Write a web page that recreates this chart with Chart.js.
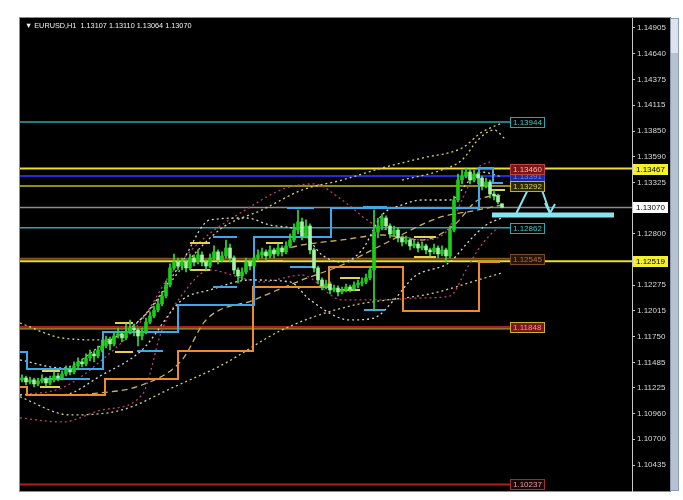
<!DOCTYPE html>
<html><head><meta charset="utf-8">
<script src="https://cdn.jsdelivr.net/npm/chart.js@4.4.0/dist/chart.umd.min.js"></script>
<style>html,body{margin:0;padding:0;background:#fff;overflow:hidden}canvas{display:block}</style>
</head><body>
<canvas id="c" width="683" height="500"></canvas>
<script>
const headerText = '\u25BC EURUSD,H1  1.13107 1.13110 1.13064 1.13070';
const axisTicks = [1.14905,1.14640,1.14375,1.14115,1.13850,1.13590,1.13325,1.12800,1.12275,1.12015,1.11750,1.11485,1.11225,1.10960,1.10700,1.10435];

const opens = [
1.11306,1.11326,1.11285,1.11306,1.11265,1.11295,1.11316,1.11275,1.11306,1.11346,
1.11326,1.11367,1.11408,1.11387,1.11449,1.11490,1.11470,1.11531,1.11572,1.11551,
1.11612,1.11653,1.11715,1.11674,1.11755,1.11776,1.11735,1.11796,1.11837,1.11817,
1.11755,1.11796,1.11898,1.11960,1.12020,1.12083,1.12164,1.12277,1.12451,1.12512,
1.12471,1.12512,1.12451,1.12553,1.12512,1.12584,1.12512,1.12471,1.12553,1.12615,
1.12533,1.12574,1.12655,1.12553,1.12430,1.12369,1.12410,1.12512,1.12471,1.12553,
1.12584,1.12615,1.12574,1.12635,1.12594,1.12655,1.12615,1.12676,1.12737,1.12839,
1.12922,1.12778,1.12880,1.12635,1.12451,1.12328,1.12267,1.12287,1.12226,1.12246,
1.12205,1.12226,1.12256,1.12236,1.12277,1.12297,1.12308,1.12349,1.12430,1.12819,
1.12880,1.12962,1.12880,1.12798,1.12839,1.12758,1.12717,1.12737,1.12676,1.12696,
1.12655,1.12676,1.12635,1.12615,1.12655,1.12594,1.12635,1.12574,1.12839,1.13146,
1.13350,1.13391,1.13432,1.13350,1.13412,1.13371,1.13289,1.13330,1.13207,1.13187,1.13107];
const highs = [
1.11357,1.11346,1.11336,1.11326,1.11326,1.11357,1.11336,1.11346,1.11387,1.11377,
1.11398,1.11449,1.11439,1.11490,1.11531,1.11520,1.11572,1.11612,1.11602,1.11653,
1.11715,1.11755,1.11745,1.11796,1.11837,1.11806,1.11878,1.11919,1.11878,1.11837,
1.11837,1.11939,1.12001,1.12062,1.12124,1.12205,1.12318,1.12492,1.12594,1.12553,
1.12553,1.12533,1.12594,1.12584,1.12635,1.12615,1.12533,1.12594,1.12676,1.12635,
1.12615,1.12737,1.12696,1.12574,1.12451,1.12451,1.12553,1.12533,1.12594,1.12635,
1.12655,1.12635,1.12676,1.12655,1.12696,1.12676,1.12717,1.12798,1.12901,1.13044,
1.12962,1.12942,1.12901,1.12655,1.12471,1.12349,1.12328,1.12308,1.12277,1.12267,
1.12256,1.12287,1.12277,1.12308,1.12328,1.12349,1.12389,1.12471,1.13044,1.12962,
1.13003,1.12983,1.12901,1.12880,1.12860,1.12778,1.12778,1.12758,1.12737,1.12717,
1.12717,1.12696,1.12655,1.12696,1.12676,1.12676,1.12655,1.12880,1.13187,1.13412,
1.13453,1.13473,1.13463,1.13453,1.13432,1.13391,1.13371,1.13350,1.13248,1.13207,1.13110];
const lows = [
1.11285,1.11255,1.11265,1.11234,1.11244,1.11275,1.11244,1.11255,1.11285,1.11295,
1.11306,1.11346,1.11357,1.11367,1.11418,1.11439,1.11449,1.11500,1.11490,1.11531,
1.11592,1.11633,1.11612,1.11653,1.11735,1.11694,1.11715,1.11776,1.11755,1.11653,
1.11715,1.11776,1.11878,1.11939,1.12001,1.12062,1.12144,1.12256,1.12430,1.12430,
1.12430,1.12410,1.12430,1.12471,1.12492,1.12471,1.12430,1.12451,1.12533,1.12492,
1.12512,1.12553,1.12512,1.12389,1.12297,1.12328,1.12389,1.12430,1.12451,1.12533,
1.12553,1.12533,1.12553,1.12553,1.12574,1.12574,1.12594,1.12655,1.12717,1.12798,
1.12737,1.12758,1.12594,1.12410,1.12287,1.12226,1.12236,1.12185,1.12205,1.12164,
1.12185,1.12205,1.12205,1.12215,1.12246,1.12267,1.12287,1.12328,1.12020,1.12758,
1.12839,1.12839,1.12758,1.12778,1.12717,1.12676,1.12696,1.12635,1.12655,1.12615,
1.12635,1.12594,1.12574,1.12594,1.12553,1.12574,1.12512,1.12553,1.12819,1.13126,
1.13310,1.13371,1.13310,1.13330,1.13310,1.13248,1.13269,1.13167,1.13146,1.13105,1.13064];
const closes = [
1.11326,1.11285,1.11306,1.11265,1.11295,1.11316,1.11275,1.11306,1.11346,1.11326,
1.11367,1.11408,1.11387,1.11449,1.11490,1.11470,1.11531,1.11572,1.11551,1.11612,
1.11653,1.11715,1.11674,1.11755,1.11776,1.11735,1.11796,1.11837,1.11817,1.11755,
1.11796,1.11898,1.11960,1.12020,1.12083,1.12164,1.12277,1.12451,1.12512,1.12471,
1.12512,1.12451,1.12553,1.12512,1.12584,1.12512,1.12471,1.12553,1.12615,1.12533,
1.12574,1.12655,1.12553,1.12430,1.12369,1.12410,1.12512,1.12471,1.12553,1.12584,
1.12615,1.12574,1.12635,1.12594,1.12655,1.12615,1.12676,1.12737,1.12839,1.12922,
1.12778,1.12880,1.12635,1.12451,1.12328,1.12267,1.12287,1.12226,1.12246,1.12205,
1.12226,1.12256,1.12236,1.12277,1.12297,1.12308,1.12349,1.12430,1.12819,1.12880,
1.12962,1.12880,1.12798,1.12839,1.12758,1.12717,1.12737,1.12676,1.12696,1.12655,
1.12676,1.12635,1.12615,1.12655,1.12594,1.12635,1.12574,1.12839,1.13146,1.13350,
1.13391,1.13432,1.13350,1.13412,1.13371,1.13289,1.13330,1.13207,1.13187,1.13126,1.13070];

// step indicator lines [bar index, price]
const blueStep = [[-0.5,1.11592],[1.25,1.11418],[20.25,1.11796],[39,1.12072],[58,1.12768],[77.25,1.13064],[114.25,1.13473],[117.75,1.13320],[120.25,1.13320]];
const orangeStep = [[-0.5,1.11234],[1.25,1.11152],[20.75,1.11316],[39,1.11602],[57.75,1.12256],[76.75,1.12461],[95.25,1.12011],[114.25,1.12512],[119.5,1.12512]];

// band curves [bar index, price]
const yellowOuterUpper = [[-0.5,1.11888],[10,1.11735],[20,1.11715],[30,1.11939],[40,1.12451],[50,1.12860],[60,1.13044],[70,1.13248],[80,1.13350],[90,1.13473],[100,1.13575],[110,1.13678],[115,1.13841],[120,1.13933]];
const yellowInnerUpper = [[95,1.13350],[105,1.13453],[110,1.13555],[114,1.13760],[118,1.13862],[121,1.13760]];
const whiteUpper = [[-0.5,1.11510],[10,1.11428],[20,1.11664],[30,1.11939],[40,1.12512],[47,1.12942],[56,1.12962],[62,1.12890],[70,1.12819],[75,1.12584],[80,1.12512],[85,1.12635],[90,1.12993],[95,1.13095],[100,1.13146],[107,1.13146],[112,1.13350],[115,1.13432],[120,1.13381]];
const whiteLower = [[-0.5,1.11152],[10,1.11152],[20,1.11357],[30,1.11612],[40,1.12124],[47,1.12226],[57,1.12328],[67,1.12308],[72,1.12124],[82,1.11919],[88,1.11939],[93,1.12124],[98,1.12359],[107,1.12512],[112,1.12737],[116,1.12890],[120,1.12962]];
const pinkUpper = [[-0.5,1.11152],[10,1.11224],[20,1.11510],[30,1.11919],[37,1.12379],[45,1.12737],[55,1.13023],[66,1.13269],[73,1.13310],[80,1.13146],[87,1.12921],[93,1.12809],[100,1.12737],[106,1.12819],[110,1.13146],[114,1.13473],[117,1.13535]];
const pinkLower = [[-0.5,1.10917],[10,1.10876],[20,1.10999],[30,1.11152],[35,1.11817],[40,1.12175],[47,1.12430],[55,1.12349],[60,1.12308],[70,1.12379],[80,1.12124],[90,1.12124],[100,1.12144],[107,1.12164],[111,1.12430],[114,1.12635],[117,1.12788],[120,1.12890]];
const yellowOuterLower = [[-0.5,1.11132],[12,1.10948],[25,1.10999],[38,1.11234],[50,1.11459],[65,1.11817],[81,1.12052],[103,1.12195],[114,1.12328],[120,1.12400]];
const tanMaSlow = [[15,1.11152],[30,1.11254],[40,1.11510],[46,1.11919],[58,1.12124],[70,1.12328],[80,1.12481],[90,1.12686],[104,1.12962],[114,1.13044],[120,1.13095]];
const tanMaFast = [[60,1.12584],[70,1.12686],[80,1.12737],[90,1.12788],[100,1.12737],[108,1.12890],[114,1.13146],[120,1.13197]];

// short level marks [from, to, price]
const yellowMarks = [[5,9.5,1.11398],[4.5,9.5,1.11234],[23.25,27.75,1.11888],[23.25,27.75,1.11592],[42,47,1.12706],[42,47,1.12430],[61,65.25,1.12706],[61.25,65.25,1.12522],[79.5,84.5,1.12349],[79.5,84.5,1.12226],[98,103.5,1.12768],[98,103.5,1.12563],[117,120.75,1.13248]];
const blueMarks = [[5.25,17,1.11316],[28.75,35.25,1.11602],[47.75,53.75,1.12256],[47.75,53.75,1.12768],[66.25,73,1.13064],[67,73,1.12461],[85.25,91.25,1.13074],[85.5,90.75,1.12020]];

// horizontal levels
const fullLevels = [1.13467, 1.13070, 1.12519];
const shortLevels = [1.13944, 1.13391, 1.13289, 1.12862, 1.12545, 1.11848, 1.11827, 1.10237];
const levelEnd = 122;
const chartLabels = [1.13944, 1.13391, 1.13460, 1.13292, 1.12862, 1.12545, 1.11848, 1.10237];

// hand-drawn cyan objects [bar index, price]
const cyanBar = [[117.5,1.12993],[148,1.12993]];
const cyanArrow = [[123.5,1.13003],[128.5,1.13422],[132,1.13013]];
const cyanHead = [[130.75,1.13115],[132,1.13013],[133.25,1.13105]];

const pts = a => a.map(p => ({x: p[0], y: p[1]}));
const marks = a => a.flatMap(m => [{x: m[0], y: m[2]}, {x: m[1], y: m[2]}, {x: m[1], y: null}]);
const idx = closes.map((_, i) => i);

function line(data, color, width, extra) {
  return Object.assign({type: 'line', data, borderColor: color, borderWidth: width, pointRadius: 0, fill: false, spanGaps: false}, extra || {});
}
const dotted = (arr, color) => line(pts(arr), color, 1.3, {borderDash: [2, 3], cubicInterpolationMode: 'monotone', order: 8});

const levelStyles = {
  1.13467: ['#e8e030', 2], 1.13070: ['#8c8c8c', 1.5], 1.12519: ['#e8e030', 2],
  1.13944: ['#2aa6b0', 1.5], 1.13391: ['#2a2ad0', 2], 1.13289: ['#c8b828', 1.5],
  1.12862: ['#2aa6b0', 1.5], 1.12545: ['#8a5020', 2], 1.11848: ['#b02020', 2], 1.11827: ['#b0a030', 1.2], 1.10237: ['#b02020', 2]
};

const datasets = [];
fullLevels.forEach(v => datasets.push(line([{x:-0.5,y:v},{x:152.5,y:v}], levelStyles[v][0], levelStyles[v][1], {order: 10})));
shortLevels.forEach(v => datasets.push(line([{x:-0.5,y:v},{x:levelEnd,y:v}], levelStyles[v][0], levelStyles[v][1], {order: 10})));
datasets.push(dotted(yellowOuterUpper, '#d8cf7a'));
datasets.push(dotted(yellowInnerUpper, '#d8cf7a'));
datasets.push(dotted(yellowOuterLower, '#d8cf7a'));
datasets.push(dotted(whiteUpper, '#d8d8d8'));
datasets.push(dotted(whiteLower, '#d8d8d8'));
datasets.push(dotted(pinkUpper, '#b8407c'));
datasets.push(dotted(pinkLower, '#b8407c'));
datasets.push(line(pts(tanMaSlow), '#c8b060', 1.3, {borderDash: [6, 4], cubicInterpolationMode: 'monotone', order: 8}));
datasets.push(line(pts(tanMaFast), '#c8b060', 1.3, {borderDash: [6, 4], cubicInterpolationMode: 'monotone', order: 8}));
datasets.push(line(pts(blueStep), '#40a8e8', 2, {stepped: true, order: 6}));
datasets.push(line(pts(orangeStep), '#f08a30', 2, {stepped: true, order: 6}));
datasets.push(line(marks(yellowMarks), '#e8d050', 2, {order: 7}));
datasets.push(line(marks(blueMarks), '#40a8e8', 2, {order: 7}));
const up = idx.map(i => closes[i] >= opens[i]);
datasets.push({type: 'bar', data: idx.map(i => ({x: i, y: [lows[i], highs[i]]})), backgroundColor: '#2fe02f', barThickness: 1, grouped: false, order: 5, borderWidth: 0});
datasets.push({type: 'bar', data: idx.map(i => ({x: i, y: [opens[i], closes[i]]})), backgroundColor: idx.map(i => up[i] ? '#1ccc1c' : '#a8f0a8'), barThickness: 3, minBarLength: 1, grouped: false, order: 4, borderWidth: 0});
datasets.push(line(pts(cyanBar), '#86e6f0', 5, {order: 1, borderCapStyle: 'butt'}));
datasets.push(line(pts(cyanArrow), '#86e6f0', 2, {order: 1}));
datasets.push(line(pts(cyanHead), '#86e6f0', 2, {order: 1}));

const labelStyles = {
  1.13944: ['#000', '#2aa6b0', '#40c8c8'], 1.13391: ['#1e2a9a', '#3a4ad0', '#7080ff'], 1.13460: ['#7a1616', '#c04040', '#ffb0b0'],
  1.13292: ['#2a2600', '#c8b400', '#d8d060'], 1.12862: ['#000', '#2aa6b0', '#40c8c8'], 1.12545: ['#2a1408', '#7a4a20', '#a07050'],
  1.11848: ['#7a1616', '#c8b030', '#ff9090'], 1.10237: ['#1a0606', '#a03030', '#e0a0a0']
};

const deco = {
  id: 'deco',
  beforeDraw(chart) {
    const c = chart.ctx;
    c.save();
    c.fillStyle = '#fff'; c.fillRect(0, 0, chart.width, chart.height);
    c.fillStyle = '#000'; c.fillRect(20, 18, 650, 473);
    c.strokeStyle = '#8c8c8c'; c.lineWidth = 1; c.strokeRect(19.5, 17.5, 651, 474);
    c.fillStyle = '#b6c1d2'; c.fillRect(670, 18, 9, 473);
    c.fillStyle = '#dde4ee'; c.fillRect(671, 19, 7, 34);
    c.strokeStyle = '#8e9bb0'; c.strokeRect(670.5, 18.5, 8, 472);
    c.restore();
  },
  afterDraw(chart) {
    const c = chart.ctx, xs = chart.scales.x, ys = chart.scales.y;
    c.save();
    c.font = '8px "Liberation Sans", Arial, sans-serif';
    c.textBaseline = 'middle';
    const bx = xs.getPixelForValue(levelEnd);
    chartLabels.forEach(v => {
      const s = labelStyles[v];
      const y = Math.round(ys.getPixelForValue(v));
      c.fillStyle = s[0]; c.fillRect(bx, y - 5, 35, 11);
      c.strokeStyle = s[1]; c.lineWidth = 1; c.strokeRect(bx + 0.5, y - 4.5, 34, 10);
      c.fillStyle = s[2]; c.textAlign = 'left'; c.fillText(v.toFixed(5), bx + 3, y + 0.5);
    });
    const ax = chart.chartArea.right + 1;
    [[1.13467, '#f4f030'], [1.13070, '#ffffff'], [1.12519, '#f4f030']].forEach(([v, col]) => {
      const y = Math.round(ys.getPixelForValue(v));
      c.fillStyle = col; c.fillRect(ax, y - 5, 35, 11);
      c.fillStyle = '#000'; c.textAlign = 'left'; c.fillText(v.toFixed(5), ax + 3, y + 0.5);
    });
    c.fillStyle = '#f0f0f0'; c.textAlign = 'left'; c.font = '7.3px "Liberation Sans", Arial, sans-serif';
    c.fillText(headerText, 25, 26);
    c.restore();
  }
};

new Chart(document.getElementById('c'), {
  type: 'line',
  data: {datasets},
  options: {
    responsive: false, animation: false, devicePixelRatio: 1,
    layout: {padding: {left: 20, top: 18, right: 13, bottom: 9}},
    plugins: {legend: {display: false}, tooltip: {enabled: false}},
    elements: {line: {tension: 0}},
    scales: {
      x: {type: 'linear', min: -0.5, max: 152.5, display: false, offset: false},
      y: {
        type: 'linear', position: 'right', min: 1.10170, max: 1.15007,
        afterBuildTicks: s => { s.ticks = axisTicks.map(v => ({value: v})); },
        afterFit: s => { s.width = 38; },
        ticks: {color: '#d8d8d8', font: {family: '"Liberation Sans", Arial, sans-serif', size: 8}, padding: 2, autoSkip: false, callback: v => Number(v).toFixed(5)},
        grid: {display: true, drawOnChartArea: false, drawTicks: true, tickLength: 3, color: '#c8c8c8'},
        border: {display: true, color: '#c8c8c8'}
      }
    }
  },
  plugins: [deco]
});
</script>
</body></html>
